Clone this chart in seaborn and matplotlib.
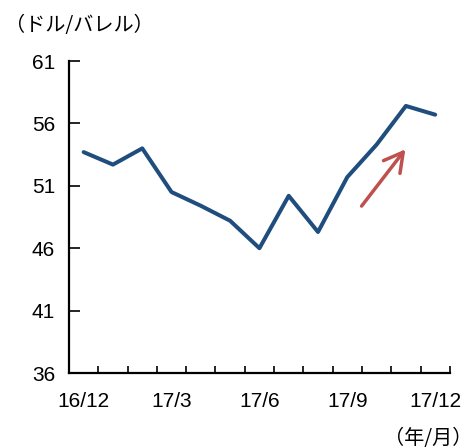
import matplotlib
matplotlib.use("Agg")
import matplotlib.pyplot as plt
import seaborn as sns
import numpy as np
import pandas as pd

months = ["16/12", "17/1", "17/2", "17/3", "17/4", "17/5", "17/6",
          "17/7", "17/8", "17/9", "17/10", "17/11", "17/12"]
prices = [53.7, 52.7, 54.0, 50.5, 49.4, 48.2, 46.0, 50.2, 47.3, 51.7, 54.3, 57.4, 56.7]
tick_labels = ["16/12", "17/3", "17/6", "17/9", "17/12"]
y_ticks = [36, 41, 46, 51, 56, 61]

sns.set_theme(style="white")
plt.rcParams['font.family'] = ['Liberation Sans', 'Noto Sans CJK JP', 'DejaVu Sans']

df = pd.DataFrame({"month": months, "price": prices, "pos": np.arange(len(months))})

fig = plt.figure(figsize=(4.74, 4.48), dpi=100)
ax = fig.add_axes([0.1456, 0.1674, 0.949 - 0.1456, 0.8638 - 0.1674])

sns.lineplot(data=df, x="pos", y="price", ax=ax, color="#1F4E7E", linewidth=2.9)

ax.set_xlim(-0.5, len(months) - 0.5)
ax.set_ylim(36, 61)
ax.set_yticks(y_ticks)
ax.set_yticklabels([str(v) for v in y_ticks], fontsize=15, color="black")

major_pos = [months.index(t) for t in tick_labels]
ax.set_xticks(major_pos)
ax.set_xticklabels(tick_labels, fontsize=15, color="black")
ax.set_xticks(np.arange(-0.5, len(months)), minor=True)
ax.tick_params(axis="x", which="major", bottom=True, length=0, pad=14)
ax.tick_params(axis="x", which="minor", bottom=True, direction="in", length=5, width=1.2, color="black")
ax.tick_params(axis="y", which="major", left=True, direction="in", length=8, width=1.2, color="black", pad=10)

ax.set_xlabel("")
ax.set_ylabel("")
for s in ["top", "right"]:
    ax.spines[s].set_visible(False)
for s in ["left", "bottom"]:
    ax.spines[s].set_color("black")
    ax.spines[s].set_linewidth(1.6)

ax.annotate("", xy=(11.04, 54.1), xytext=(9.43, 49.2),
            arrowprops=dict(arrowstyle="->,head_length=0.45,head_width=0.25",
                            color="#C0504D", lw=2.5, mutation_scale=30))

fig.text(5 / 474, 1 - 25 / 448, "（ドル/バレル）", fontsize=14.5, color="black",
         family=['Noto Sans CJK JP', 'DejaVu Sans'], va="center", ha="left")
fig.text(472 / 474, 1 - 438 / 448, "（年/月）", fontsize=14.5, color="black",
         family=['Noto Sans CJK JP', 'DejaVu Sans'], va="center", ha="right")

fig.savefig("out.png", dpi=100)
